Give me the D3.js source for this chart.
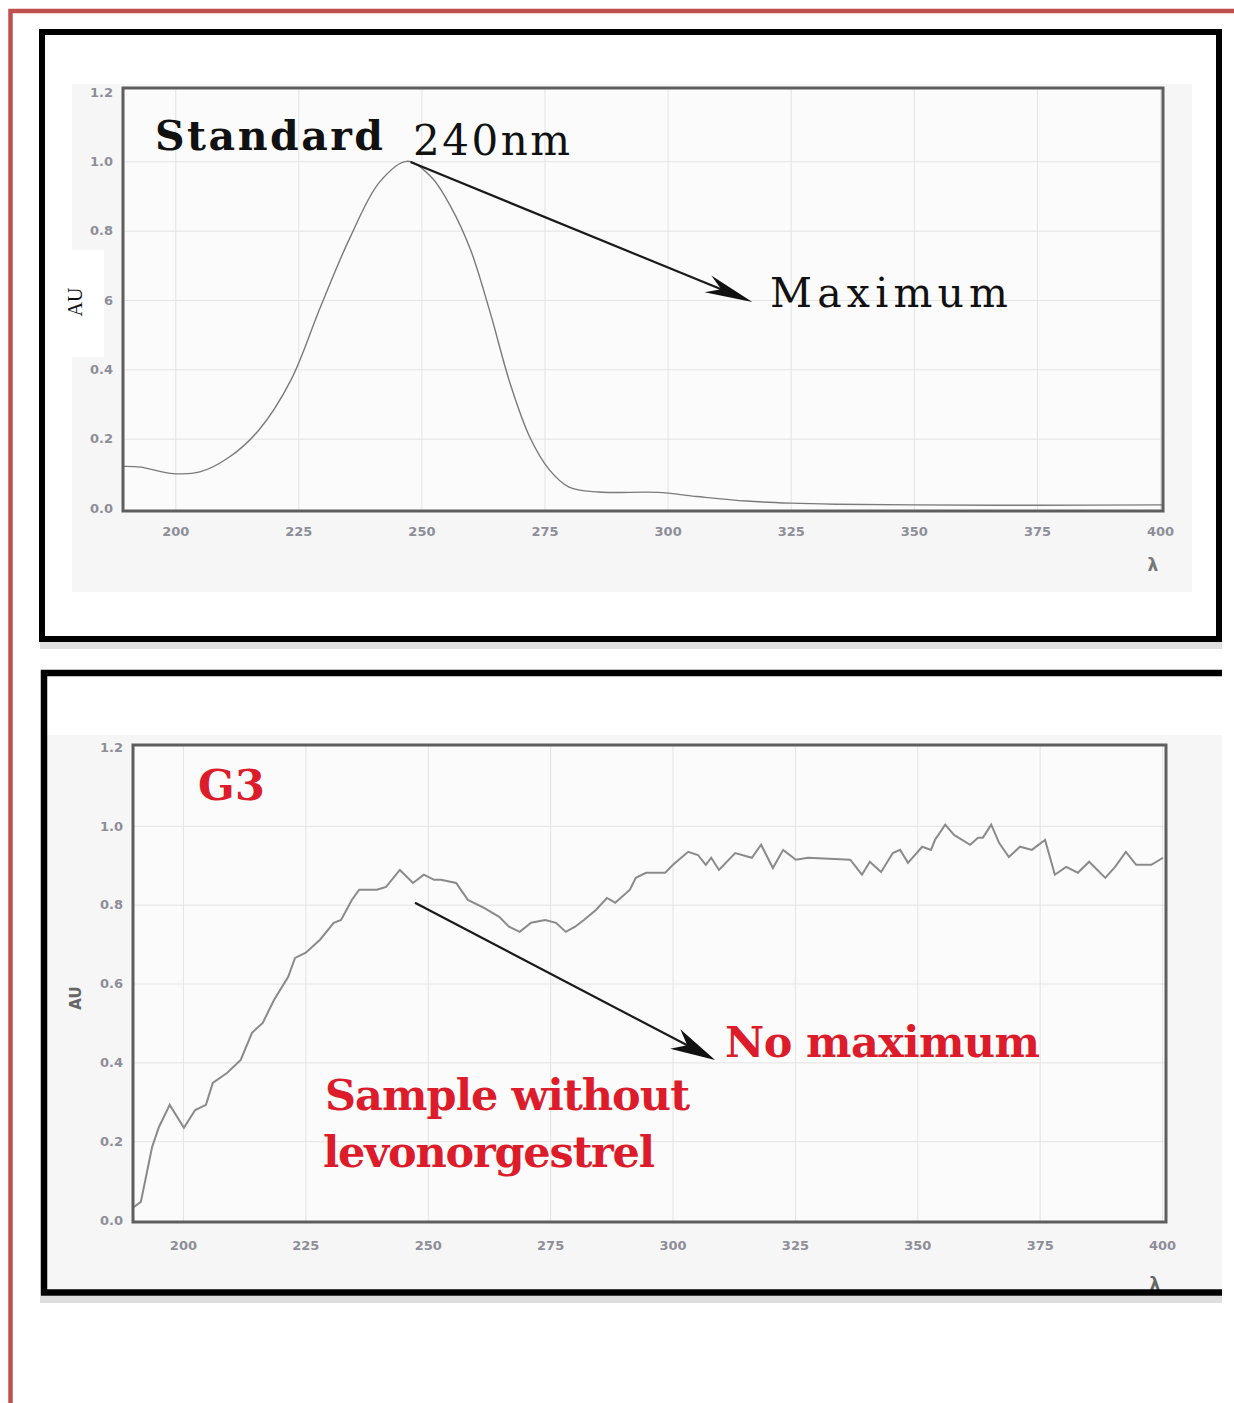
<!DOCTYPE html>
<html>
<head>
<meta charset="utf-8">
<script src="https://cdn.jsdelivr.net/npm/d3@7"></script>
<style>
  body { margin: 0; background: #fff; }
  svg { display: block; }
  .tick text { font-family: "DejaVu Sans", sans-serif; font-weight: bold; font-size: 13px; fill: #8e8e98; }
</style>
</head>
<body>
<svg id="chart" width="1234" height="1403"></svg>
<script>
'use strict';

// Axis ticks shared by both spectra.
var xTicks = [200, 225, 250, 275, 300, 325, 350, 375, 400];
var yTicks = [0, 0.2, 0.4, 0.6, 0.8, 1.0, 1.2];

// Standard levonorgestrel spectrum.
var stdWavelength = [189.5, 193, 199, 205, 211, 217, 223.5, 229.5, 235.5, 241.5, 247, 252, 256, 260, 264,
  268, 272, 276, 280, 286, 298, 306, 316, 325, 334, 350, 375, 400.5];
var stdAbsorbance = [0.12, 0.118, 0.10, 0.104, 0.147, 0.225, 0.369, 0.58, 0.78, 0.94, 1.0, 0.955, 0.868, 0.744, 0.562,
  0.36, 0.205, 0.11, 0.06, 0.046, 0.045, 0.033, 0.02, 0.014, 0.011, 0.009, 0.008, 0.009];

// G3 sample spectrum.
var g3Wavelength = [190.0, 191.4, 193.7, 195.1, 197.3, 200.2, 202.5, 204.7, 206.1, 209.0, 211.8, 214.1, 216.3, 218.6,
  221.5, 222.9, 225.1, 228.0, 230.8, 232.3, 234.5, 236.0, 239.6, 241.5, 244.3, 247.0, 249.2, 251.3, 252.7, 255.8,
  258.2, 261.5, 264.6, 266.6, 268.8, 271.1, 274.0, 276.2, 278.2, 280.1, 281.9, 284.4, 286.6, 288.3, 291.3, 292.5,
  294.6, 298.5, 300.1, 303.2, 305.2, 306.8, 307.9, 309.5, 312.8, 316.2, 318.1, 320.5, 322.6, 325.2, 327.7, 336.3,
  338.7, 340.3, 342.6, 345.0, 346.5, 348.1, 351.0, 352.8, 353.6, 355.7, 357.5, 360.8, 362.4, 363.4, 365.1, 366.7,
  368.7, 371.0, 373.4, 376.1, 378.1, 380.4, 382.8, 385.1, 388.4, 390.4, 392.6, 394.7, 397.8, 400.2];
var g3Absorbance = [0.033, 0.046, 0.185, 0.236, 0.292, 0.234, 0.279, 0.292, 0.348, 0.373, 0.406, 0.475, 0.5, 0.558,
  0.617, 0.665, 0.678, 0.711, 0.754, 0.761, 0.812, 0.838, 0.838, 0.845, 0.888, 0.855, 0.876, 0.863, 0.863, 0.855,
  0.812, 0.792, 0.769, 0.744, 0.731, 0.754, 0.761, 0.754, 0.731, 0.744, 0.761, 0.787, 0.817, 0.805, 0.838, 0.868,
  0.881, 0.881, 0.901, 0.934, 0.926, 0.901, 0.919, 0.888, 0.931, 0.919, 0.952, 0.893, 0.939, 0.914, 0.919, 0.914,
  0.876, 0.909, 0.883, 0.931, 0.939, 0.906, 0.947, 0.939, 0.964, 1.003, 0.977, 0.952, 0.97, 0.97, 1.003, 0.957,
  0.921, 0.947, 0.939, 0.964, 0.876, 0.896, 0.881, 0.909, 0.868, 0.896, 0.934, 0.901, 0.901, 0.919];

var red = '#dd1c2b';
var svg = d3.select('#chart');

// Page decoration: soft shadow under each black frame.
function frameShadow(x, y, w) {
  svg.append('rect').attr('x', x).attr('y', y).attr('width', w).attr('height', 7)
    .attr('fill', '#c8c8c8').attr('opacity', 0.6);
}

// Draw one spectrum panel and hand back its scales for annotations.
function drawPlot(o) {
  var x = d3.scaleLinear().domain(o.xDomain).range([o.left, o.right]);
  var y = d3.scaleLinear().domain([0, 1.2]).range([o.y0, o.y12]);
  var g = svg.append('g');

  g.append('rect')
    .attr('x', o.left).attr('y', o.top)
    .attr('width', o.right - o.left).attr('height', o.bottom - o.top)
    .attr('fill', '#fbfbfb');

  // Grid lines.
  var gx = g.append('g')
    .attr('transform', 'translate(0,' + o.bottom + ')')
    .call(d3.axisBottom(x).tickValues(xTicks).tickSize(-(o.bottom - o.top)).tickFormat(''));
  var gy = g.append('g')
    .attr('transform', 'translate(' + o.left + ',0)')
    .call(d3.axisLeft(y).tickValues(yTicks.slice(1, -1)).tickSize(-(o.right - o.left)).tickFormat(''));
  [gx, gy].forEach(function(a) {
    a.select('.domain').remove();
    a.selectAll('line').attr('stroke', '#e3e3e3');
  });

  var line = d3.line()
    .x(function(d) { return x(d[0]); })
    .y(function(d) { return y(d[1]); })
    .curve(o.curve);

  g.append('path')
    .datum(d3.zip(o.wl, o.au))
    .attr('d', line)
    .attr('fill', 'none')
    .attr('stroke', o.stroke)
    .attr('stroke-width', o.strokeWidth);

  g.append('rect')
    .attr('x', o.left).attr('y', o.top)
    .attr('width', o.right - o.left).attr('height', o.bottom - o.top)
    .attr('fill', 'none').attr('stroke', '#5e5e5e').attr('stroke-width', 3);

  // Tick labels.
  var ax = g.append('g')
    .attr('transform', 'translate(0,' + o.bottom + ')')
    .call(d3.axisBottom(x).tickValues(xTicks).tickSize(0).tickPadding(o.xPad));
  var ay = g.append('g')
    .attr('transform', 'translate(' + o.left + ',0)')
    .call(d3.axisLeft(y).tickValues(yTicks).tickSize(0).tickPadding(o.yPad).tickFormat(d3.format('.1f')));
  ax.select('.domain').remove();
  ay.select('.domain').remove();

  return { x: x, y: y };
}

function arrow(x1, y1, x2, y2, len, half) {
  var a = Math.atan2(y2 - y1, x2 - x1);
  var c = Math.cos(a), s = Math.sin(a);
  var bx = x2 - len * c, by = y2 - len * s;
  var nx = x2 - len * 0.7 * c, ny = y2 - len * 0.7 * s;
  svg.append('line')
    .attr('x1', x1).attr('y1', y1).attr('x2', nx).attr('y2', ny)
    .attr('stroke', '#1a1a1a').attr('stroke-width', 2.2);
  svg.append('path')
    .attr('d', 'M' + x2 + ',' + y2 +
      'L' + (bx - half * s) + ',' + (by + half * c) +
      'L' + nx + ',' + ny +
      'L' + (bx + half * s) + ',' + (by - half * c) + 'Z')
    .attr('fill', '#111');
}

// ---- top panel: standard ----
svg.append('rect').attr('x', 72).attr('y', 84).attr('width', 1120).attr('height', 508).attr('fill', '#f6f6f6');

var stdPlot = drawPlot({
  wl: stdWavelength, au: stdAbsorbance,
  xDomain: [189.4, 400.6], left: 123, right: 1163, top: 88, bottom: 511,
  y0: 508, y12: 92, xPad: 16, yPad: 10,
  curve: d3.curveCatmullRom, stroke: '#7a7a7a', strokeWidth: 1.4
});

svg.append('text').attr('x', 1153).attr('y', 571).attr('text-anchor', 'middle')
  .attr('font-family', 'DejaVu Sans, sans-serif').attr('font-weight', 'bold')
  .attr('font-size', 17).attr('fill', '#777').text('λ');

// white patch that hides the "0." of the 0.6 label, with the AU title on it
svg.append('rect').attr('x', 52).attr('y', 250).attr('width', 52).attr('height', 107).attr('fill', '#fff');
svg.append('text').attr('transform', 'translate(82,302) rotate(-90)').attr('text-anchor', 'middle')
  .attr('font-family', 'Liberation Serif, serif').attr('font-size', 20).attr('fill', '#111').text('AU');

svg.append('text').attr('x', 155).attr('y', 150)
  .attr('font-family', 'DejaVu Serif, serif').attr('font-weight', 'bold').attr('font-size', 41)
  .attr('textLength', 228).attr('lengthAdjust', 'spacing').attr('fill', '#111').text('Standard');
svg.append('text').attr('x', 413).attr('y', 155)
  .attr('font-family', 'DejaVu Serif, serif').attr('font-size', 42)
  .attr('textLength', 157).attr('lengthAdjust', 'spacing').attr('fill', '#111').text('240nm');
svg.append('text').attr('x', 770).attr('y', 307)
  .attr('font-family', 'DejaVu Serif, serif').attr('font-size', 41)
  .attr('textLength', 238).attr('lengthAdjust', 'spacing').attr('fill', '#111').text('Maximum');

arrow(stdPlot.x(247.8), stdPlot.y(0.998), stdPlot.x(317.2), stdPlot.y(0.594), 48, 9);

// ---- bottom panel: G3 ----
svg.append('rect').attr('x', 47).attr('y', 735).attr('width', 1175).attr('height', 554).attr('fill', '#f6f6f6');

var g3Plot = drawPlot({
  wl: g3Wavelength, au: g3Absorbance,
  xDomain: [189.8, 400.8], left: 133, right: 1166, top: 745, bottom: 1222,
  y0: 1220, y12: 747, xPad: 19, yPad: 10,
  curve: d3.curveLinear, stroke: '#8a8a8a', strokeWidth: 2
});

svg.append('text').attr('transform', 'translate(81,998) rotate(-90)').attr('text-anchor', 'middle')
  .attr('font-family', 'DejaVu Sans, sans-serif').attr('font-weight', 'bold')
  .attr('font-size', 15).attr('fill', '#666').text('AU');
svg.append('text').attr('x', 1155).attr('y', 1290).attr('text-anchor', 'middle')
  .attr('font-family', 'DejaVu Sans, sans-serif').attr('font-weight', 'bold')
  .attr('font-size', 17).attr('fill', '#666').text('λ');

function redText(str, x, y, w) {
  svg.append('text').attr('x', x).attr('y', y)
    .attr('font-family', 'DejaVu Serif, serif').attr('font-weight', 'bold').attr('font-size', 43)
    .attr('textLength', w).attr('lengthAdjust', 'spacing').attr('fill', red).text(str);
}
redText('G3', 198, 800, 67);
redText('No maximum', 725, 1057, 315);
redText('Sample without', 325, 1110, 365);
redText('levonorgestrel', 323, 1167, 332);

arrow(g3Plot.x(247.4), g3Plot.y(0.805), g3Plot.x(308.7), g3Plot.y(0.406), 45, 11);

// ---- frames and page border ----
frameShadow(40, 642, 1182);
svg.append('rect').attr('x', 42).attr('y', 32).attr('width', 1177).attr('height', 607)
  .attr('fill', 'none').attr('stroke', '#000').attr('stroke-width', 6);

frameShadow(40, 1296, 1182);
svg.append('path').attr('d', 'M1222,673H44V1292.5H1222')
  .attr('fill', 'none').attr('stroke', '#000').attr('stroke-width', 6.5);

svg.append('path').attr('d', 'M1234,11H10.5V1403')
  .attr('fill', 'none').attr('stroke', '#c0504d').attr('stroke-width', 4.5);
</script>
</body>
</html>
